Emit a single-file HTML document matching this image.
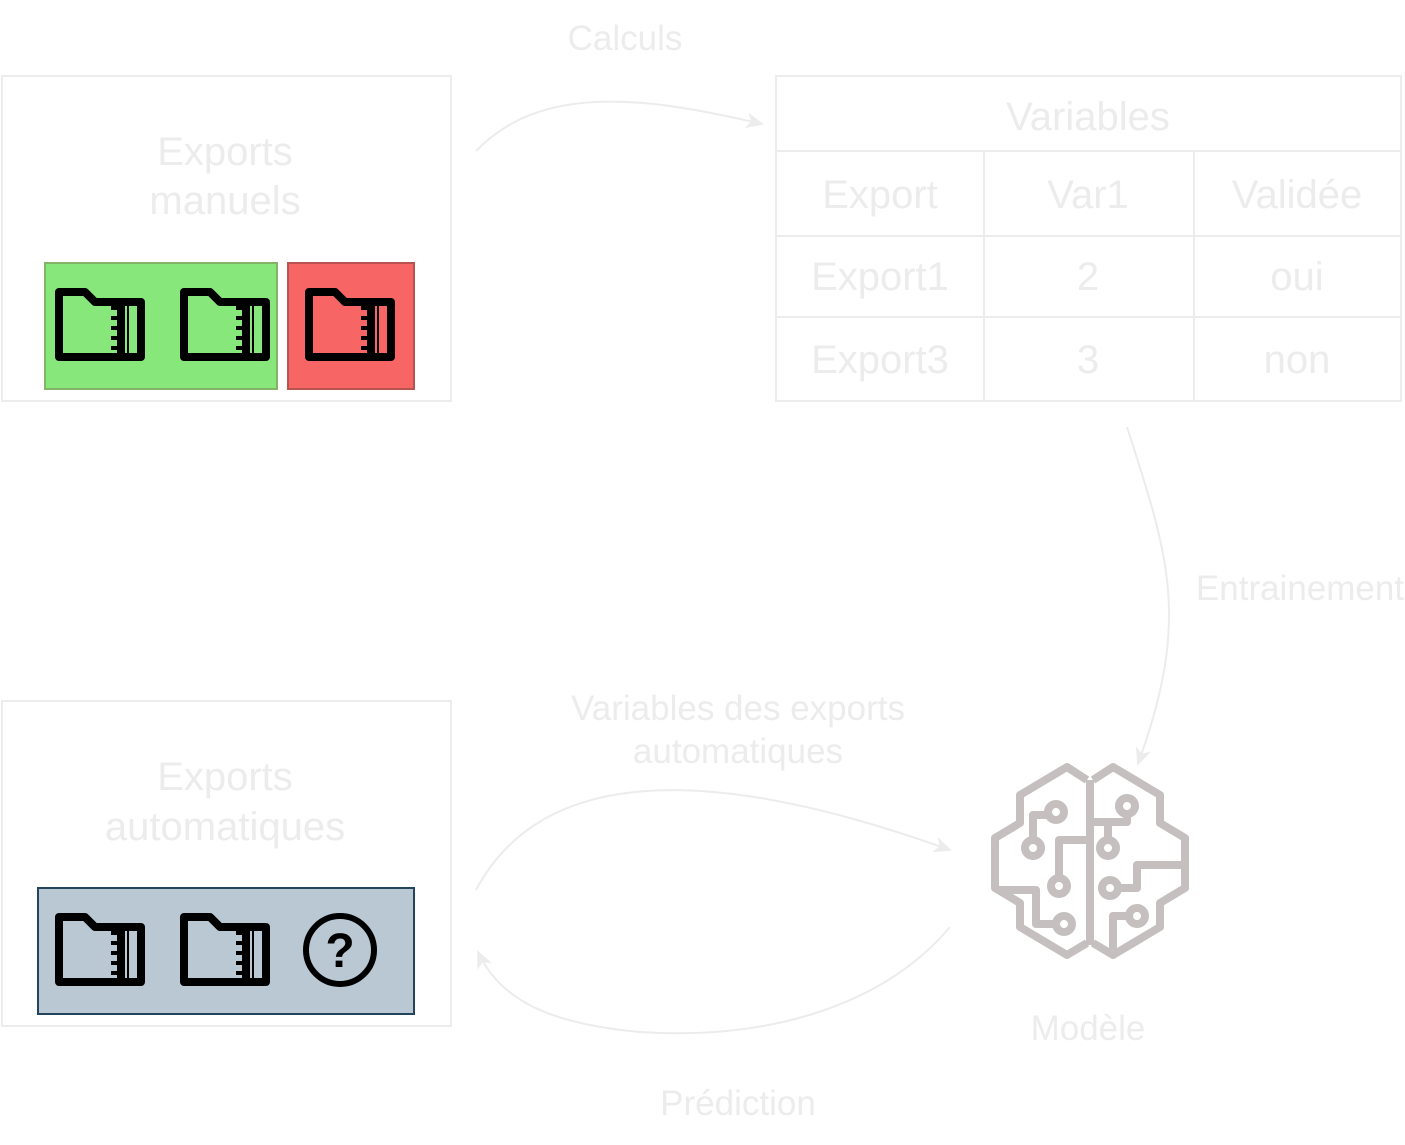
<!DOCTYPE html>
<html><head><meta charset="utf-8"><style>
html,body{margin:0;padding:0;background:#fff;}
svg{display:block;}
text{font-family:"Liberation Sans",sans-serif;fill:#ececec;}
</style></head><body>
<svg width="1405" height="1145" viewBox="0 0 1405 1145" xmlns="http://www.w3.org/2000/svg">
<defs>
<symbol id="fold" viewBox="0 0 90 73" overflow="visible">
 <path d="M4,4 H30 L40,14 H86 V69 H4 Z" fill="none" stroke="#000" stroke-width="8" stroke-linejoin="round"/>
 <rect x="62" y="14" width="8" height="55" fill="#000"/>
 <path d="M62,20 h-6 M62,30 h-6 M62,40 h-6 M62,50 h-6 M62,60 h-6" stroke="#000" stroke-width="4"/>
 <rect x="72" y="14" width="2" height="55" fill="#000"/>
</symbol>
<marker id="ar" markerWidth="20" markerHeight="20" refX="16" refY="8" orient="auto" markerUnits="userSpaceOnUse">
 <path d="M0,0 L18,8 L0,16 L5,8 Z" fill="#ececec"/>
</marker>
</defs>
<g fill="none" stroke="#ececec" stroke-width="2">
<rect x="2" y="76" width="449" height="325"/>
<rect x="2" y="701" width="449" height="325"/>
<rect x="776" y="76" width="625" height="325"/>
<line x1="776" y1="151" x2="1401" y2="151"/>
<line x1="776" y1="236" x2="1401" y2="236"/>
<line x1="776" y1="317" x2="1401" y2="317"/>
<line x1="984" y1="151" x2="984" y2="401"/>
<line x1="1194" y1="151" x2="1194" y2="401"/>
<path d="M476,151 C540,85 640,95 762,124" marker-end="url(#ar)"/>
<path d="M1127,427 C1170,560 1190,620 1138,764" marker-end="url(#ar)"/>
<path d="M476,890 C540,770 700,760 950,850" marker-end="url(#ar)"/>
<path d="M950,927 C880,1010 760,1040 640,1032 C550,1024 500,1000 478,952" marker-end="url(#ar)"/>
</g>
<text x="625" y="50" font-size="35" text-anchor="middle">Calculs</text>
<text x="225" y="165" font-size="40" text-anchor="middle">Exports</text>
<text x="225" y="214" font-size="40" text-anchor="middle">manuels</text>
<text x="225" y="790" font-size="40" text-anchor="middle">Exports</text>
<text x="225" y="840" font-size="40" text-anchor="middle">automatiques</text>
<text x="1088" y="130" font-size="40" text-anchor="middle">Variables</text>
<text x="880" y="208" font-size="40" text-anchor="middle">Export</text>
<text x="1088" y="208" font-size="40" text-anchor="middle">Var1</text>
<text x="1297" y="208" font-size="40" text-anchor="middle">Validée</text>
<text x="880" y="290" font-size="40" text-anchor="middle">Export1</text>
<text x="1088" y="290" font-size="40" text-anchor="middle">2</text>
<text x="1297" y="290" font-size="40" text-anchor="middle">oui</text>
<text x="880" y="373" font-size="40" text-anchor="middle">Export3</text>
<text x="1088" y="373" font-size="40" text-anchor="middle">3</text>
<text x="1297" y="373" font-size="40" text-anchor="middle">non</text>
<text x="1300" y="600" font-size="35" text-anchor="middle">Entrainement</text>
<text x="738" y="720" font-size="35" text-anchor="middle">Variables des exports</text>
<text x="738" y="763" font-size="35" text-anchor="middle">automatiques</text>
<text x="1088" y="1040" font-size="35" text-anchor="middle">Modèle</text>
<text x="738" y="1115" font-size="35" text-anchor="middle">Prédiction</text>
<rect x="45" y="263" width="232" height="126" fill="#88e77a" stroke="#82b366" stroke-width="2"/>
<rect x="288" y="263" width="126" height="126" fill="#f86565" stroke="#b85450" stroke-width="2"/>
<rect x="38" y="888" width="376" height="126" fill="#bac8d3" stroke="#23445d" stroke-width="2"/>
<use href="#fold" x="55" y="288" width="90" height="73"/>
<use href="#fold" x="180" y="288" width="90" height="73"/>
<use href="#fold" x="305" y="288" width="90" height="73"/>
<use href="#fold" x="55" y="913" width="90" height="73"/>
<use href="#fold" x="180" y="913" width="90" height="73"/>
<circle cx="340" cy="950" r="34" fill="none" stroke="#000" stroke-width="6"/>
<text x="340" y="967" font-size="48" font-weight="bold" text-anchor="middle" style="fill:#000">?</text>
<g fill="none" stroke="#c5bfbf" stroke-width="8" stroke-linejoin="round">
<path d="M1087,780 L1067,767 L1020,795 L1020,823 L995,838 L995,888 L1020,903 L1020,927 L1067,955 L1087,943"/>
<path d="M1093,780 L1113,767 L1160,795 L1160,823 L1185,838 L1185,888 L1160,903 L1160,927 L1113,955 L1093,943"/>
<line x1="1090" y1="780" x2="1090" y2="945"/>
<path d="M1033,841 V815 H1049"/>
<path d="M1059,879 V840 H1090"/>
<path d="M1057,924 H1036 V890 H998"/>
<path d="M1127,813 V822 H1093"/>
<path d="M1108,841 V822"/>
<path d="M1117,888 H1137 V865 H1183"/>
<path d="M1130,916 H1113 V950"/>
<circle cx="1056" cy="812" r="8"/>
<circle cx="1033" cy="848" r="8"/>
<circle cx="1059" cy="886" r="8"/>
<circle cx="1064" cy="924" r="8"/>
<circle cx="1127" cy="806" r="8"/>
<circle cx="1108" cy="848" r="8"/>
<circle cx="1110" cy="888" r="8"/>
<circle cx="1137" cy="916" r="8"/>
</g>
</svg>
</body></html>
